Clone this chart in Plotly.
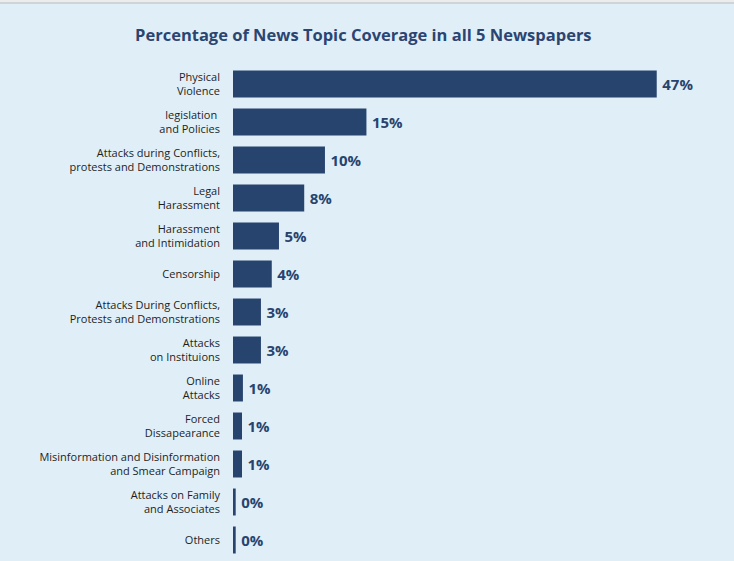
import plotly.graph_objects as go

# Topics, top to bottom as shown
topics = [
    "Physical<br>Violence",
    "legislation <br>and Policies",
    "Attacks during Conflicts,<br>protests and Demonstrations",
    "Legal<br>Harassment",
    "Harassment<br>and Intimidation",
    "Censorship",
    "Attacks During Conflicts,<br>Protests and Demonstrations",
    "Attacks<br>on Instituions",
    "Online<br>Attacks",
    "Forced<br>Dissapearance",
    "Misinformation and Disinformation<br>and Smear Campaign",
    "Attacks on Family<br>and Associates",
    "Others",
]
# share of coverage (%)
pct = [47.0, 14.8, 10.2, 7.9, 5.1, 4.3, 3.1, 3.1, 1.1, 1.0, 1.0, 0.3, 0.3]

bar_color = "#27446F"
bg = "#E0EFF7"
font = "Open Sans"

fig = go.Figure(
    go.Bar(
        x=pct,
        y=topics,
        orientation="h",
        marker=dict(color=bar_color, line=dict(width=0)),
        texttemplate="\u2009%{x:.0f}%",
        textposition="outside",
        textfont=dict(family=font, size=15, color=bar_color, weight="bold"),
        cliponaxis=False,
    )
)

fig.update_layout(
    width=734,
    height=561,
    paper_bgcolor=bg,
    plot_bgcolor=bg,
    margin=dict(l=233, r=34, t=65, b=2),
    bargap=0.29,
    showlegend=False,
    title=dict(
        text="<b>Percentage of News Topic Coverage in all 5 Newspapers</b>",
        x=0.495,
        xanchor="center",
        y=0.937,
        yanchor="middle",
        font=dict(family=font, size=16.5, color="#2B4572"),
    ),
    xaxis=dict(range=[0, 51.8], visible=False),
    yaxis=dict(
        autorange="reversed",
        showgrid=False,
        zeroline=False,
        ticks="",
        ticklabelstandoff=12,
        tickfont=dict(family=font, size=11, color="#1E1E1E"),
    ),
    shapes=[
        dict(type="rect", xref="paper", yref="paper",
             x0=-0.5, x1=1.5, y0=1 + 62 / 494, y1=1.2,
             fillcolor="#ECECEC", line=dict(width=0), layer="above"),
        dict(type="line", xref="paper", yref="paper",
             x0=-0.5, x1=1.5, y0=1 + 62 / 494, y1=1 + 62 / 494,
             line=dict(color="#C8CDD0", width=1.5), layer="above"),
    ],
)

fig.write_html(
    "out.html",
    config={"displayModeBar": False},
    post_script="document.body.style.margin='0';",
)
